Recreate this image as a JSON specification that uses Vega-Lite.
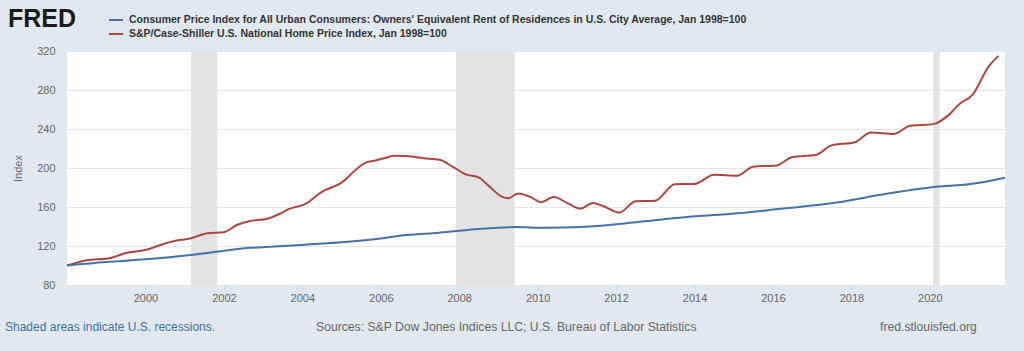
{
  "$schema": "https://vega.github.io/schema/vega-lite/v6.json",
  "width": 938,
  "height": 234,
  "autosize": "none",
  "padding": {"left": 67, "top": 51, "right": 19, "bottom": 66},
  "background": "#e1e9f0",
  "config": {
    "font": "Liberation Sans",
    "view": {"fill": "white", "stroke": null}
  },
  "datasets": {
    "series": [
      {"date": "1998-01-01", "series": "S&P/Case-Shiller U.S. National Home Price Index, Jan 1998=100", "value": 100},
      {"date": "1998-07-01", "series": "S&P/Case-Shiller U.S. National Home Price Index, Jan 1998=100", "value": 105.3},
      {"date": "1999-02-01", "series": "S&P/Case-Shiller U.S. National Home Price Index, Jan 1998=100", "value": 107.5},
      {"date": "1999-07-01", "series": "S&P/Case-Shiller U.S. National Home Price Index, Jan 1998=100", "value": 112.8},
      {"date": "2000-01-01", "series": "S&P/Case-Shiller U.S. National Home Price Index, Jan 1998=100", "value": 115.9},
      {"date": "2000-07-01", "series": "S&P/Case-Shiller U.S. National Home Price Index, Jan 1998=100", "value": 122.5},
      {"date": "2000-11-01", "series": "S&P/Case-Shiller U.S. National Home Price Index, Jan 1998=100", "value": 125.8},
      {"date": "2001-02-01", "series": "S&P/Case-Shiller U.S. National Home Price Index, Jan 1998=100", "value": 127.2},
      {"date": "2001-08-01", "series": "S&P/Case-Shiller U.S. National Home Price Index, Jan 1998=100", "value": 133.0},
      {"date": "2002-01-01", "series": "S&P/Case-Shiller U.S. National Home Price Index, Jan 1998=100", "value": 134.2},
      {"date": "2002-05-01", "series": "S&P/Case-Shiller U.S. National Home Price Index, Jan 1998=100", "value": 141.5},
      {"date": "2002-09-01", "series": "S&P/Case-Shiller U.S. National Home Price Index, Jan 1998=100", "value": 145.6},
      {"date": "2003-02-01", "series": "S&P/Case-Shiller U.S. National Home Price Index, Jan 1998=100", "value": 147.7},
      {"date": "2003-06-01", "series": "S&P/Case-Shiller U.S. National Home Price Index, Jan 1998=100", "value": 152.8},
      {"date": "2003-09-01", "series": "S&P/Case-Shiller U.S. National Home Price Index, Jan 1998=100", "value": 158.0},
      {"date": "2004-02-01", "series": "S&P/Case-Shiller U.S. National Home Price Index, Jan 1998=100", "value": 163.3},
      {"date": "2004-07-01", "series": "S&P/Case-Shiller U.S. National Home Price Index, Jan 1998=100", "value": 175.5},
      {"date": "2005-01-01", "series": "S&P/Case-Shiller U.S. National Home Price Index, Jan 1998=100", "value": 185.0},
      {"date": "2005-06-01", "series": "S&P/Case-Shiller U.S. National Home Price Index, Jan 1998=100", "value": 200.0},
      {"date": "2005-08-01", "series": "S&P/Case-Shiller U.S. National Home Price Index, Jan 1998=100", "value": 204.8},
      {"date": "2005-11-01", "series": "S&P/Case-Shiller U.S. National Home Price Index, Jan 1998=100", "value": 207.5},
      {"date": "2006-02-01", "series": "S&P/Case-Shiller U.S. National Home Price Index, Jan 1998=100", "value": 210.0},
      {"date": "2006-05-01", "series": "S&P/Case-Shiller U.S. National Home Price Index, Jan 1998=100", "value": 212.6},
      {"date": "2006-09-01", "series": "S&P/Case-Shiller U.S. National Home Price Index, Jan 1998=100", "value": 212.3},
      {"date": "2007-02-01", "series": "S&P/Case-Shiller U.S. National Home Price Index, Jan 1998=100", "value": 210.0},
      {"date": "2007-07-01", "series": "S&P/Case-Shiller U.S. National Home Price Index, Jan 1998=100", "value": 208.5},
      {"date": "2007-11-01", "series": "S&P/Case-Shiller U.S. National Home Price Index, Jan 1998=100", "value": 201.4},
      {"date": "2008-03-01", "series": "S&P/Case-Shiller U.S. National Home Price Index, Jan 1998=100", "value": 193.5},
      {"date": "2008-07-01", "series": "S&P/Case-Shiller U.S. National Home Price Index, Jan 1998=100", "value": 190.4},
      {"date": "2008-10-01", "series": "S&P/Case-Shiller U.S. National Home Price Index, Jan 1998=100", "value": 181.8},
      {"date": "2009-02-01", "series": "S&P/Case-Shiller U.S. National Home Price Index, Jan 1998=100", "value": 170.6},
      {"date": "2009-04-01", "series": "S&P/Case-Shiller U.S. National Home Price Index, Jan 1998=100", "value": 168.9},
      {"date": "2009-07-01", "series": "S&P/Case-Shiller U.S. National Home Price Index, Jan 1998=100", "value": 173.8},
      {"date": "2009-11-01", "series": "S&P/Case-Shiller U.S. National Home Price Index, Jan 1998=100", "value": 170.0},
      {"date": "2010-02-01", "series": "S&P/Case-Shiller U.S. National Home Price Index, Jan 1998=100", "value": 164.8},
      {"date": "2010-06-01", "series": "S&P/Case-Shiller U.S. National Home Price Index, Jan 1998=100", "value": 170.2},
      {"date": "2010-10-01", "series": "S&P/Case-Shiller U.S. National Home Price Index, Jan 1998=100", "value": 164.2},
      {"date": "2011-02-01", "series": "S&P/Case-Shiller U.S. National Home Price Index, Jan 1998=100", "value": 158.3},
      {"date": "2011-06-01", "series": "S&P/Case-Shiller U.S. National Home Price Index, Jan 1998=100", "value": 164.1},
      {"date": "2011-09-01", "series": "S&P/Case-Shiller U.S. National Home Price Index, Jan 1998=100", "value": 161.0},
      {"date": "2012-02-01", "series": "S&P/Case-Shiller U.S. National Home Price Index, Jan 1998=100", "value": 154.2},
      {"date": "2012-07-01", "series": "S&P/Case-Shiller U.S. National Home Price Index, Jan 1998=100", "value": 166.0},
      {"date": "2013-01-01", "series": "S&P/Case-Shiller U.S. National Home Price Index, Jan 1998=100", "value": 166.5},
      {"date": "2013-07-01", "series": "S&P/Case-Shiller U.S. National Home Price Index, Jan 1998=100", "value": 183.4},
      {"date": "2014-01-01", "series": "S&P/Case-Shiller U.S. National Home Price Index, Jan 1998=100", "value": 183.6},
      {"date": "2014-07-01", "series": "S&P/Case-Shiller U.S. National Home Price Index, Jan 1998=100", "value": 193.0},
      {"date": "2015-02-01", "series": "S&P/Case-Shiller U.S. National Home Price Index, Jan 1998=100", "value": 192.0},
      {"date": "2015-07-01", "series": "S&P/Case-Shiller U.S. National Home Price Index, Jan 1998=100", "value": 201.4},
      {"date": "2016-02-01", "series": "S&P/Case-Shiller U.S. National Home Price Index, Jan 1998=100", "value": 202.5},
      {"date": "2016-07-01", "series": "S&P/Case-Shiller U.S. National Home Price Index, Jan 1998=100", "value": 211.3},
      {"date": "2017-02-01", "series": "S&P/Case-Shiller U.S. National Home Price Index, Jan 1998=100", "value": 213.3},
      {"date": "2017-07-01", "series": "S&P/Case-Shiller U.S. National Home Price Index, Jan 1998=100", "value": 223.2},
      {"date": "2018-02-01", "series": "S&P/Case-Shiller U.S. National Home Price Index, Jan 1998=100", "value": 226.4},
      {"date": "2018-07-01", "series": "S&P/Case-Shiller U.S. National Home Price Index, Jan 1998=100", "value": 236.4},
      {"date": "2019-02-01", "series": "S&P/Case-Shiller U.S. National Home Price Index, Jan 1998=100", "value": 234.9},
      {"date": "2019-07-01", "series": "S&P/Case-Shiller U.S. National Home Price Index, Jan 1998=100", "value": 243.4},
      {"date": "2020-02-01", "series": "S&P/Case-Shiller U.S. National Home Price Index, Jan 1998=100", "value": 245.0},
      {"date": "2020-07-01", "series": "S&P/Case-Shiller U.S. National Home Price Index, Jan 1998=100", "value": 255.0},
      {"date": "2020-10-01", "series": "S&P/Case-Shiller U.S. National Home Price Index, Jan 1998=100", "value": 265.5},
      {"date": "2021-02-01", "series": "S&P/Case-Shiller U.S. National Home Price Index, Jan 1998=100", "value": 275.0},
      {"date": "2021-07-01", "series": "S&P/Case-Shiller U.S. National Home Price Index, Jan 1998=100", "value": 304.0},
      {"date": "2021-10-01", "series": "S&P/Case-Shiller U.S. National Home Price Index, Jan 1998=100", "value": 315.0},
      {"date": "1998-01-01", "series": "Consumer Price Index for All Urban Consumers: Owners' Equivalent Rent of Residences in U.S. City Average, Jan 1998=100", "value": 100},
      {"date": "1999-01-01", "series": "Consumer Price Index for All Urban Consumers: Owners' Equivalent Rent of Residences in U.S. City Average, Jan 1998=100", "value": 103.6},
      {"date": "2000-01-01", "series": "Consumer Price Index for All Urban Consumers: Owners' Equivalent Rent of Residences in U.S. City Average, Jan 1998=100", "value": 106.4},
      {"date": "2001-03-01", "series": "Consumer Price Index for All Urban Consumers: Owners' Equivalent Rent of Residences in U.S. City Average, Jan 1998=100", "value": 110.8},
      {"date": "2002-01-01", "series": "Consumer Price Index for All Urban Consumers: Owners' Equivalent Rent of Residences in U.S. City Average, Jan 1998=100", "value": 115.0},
      {"date": "2002-06-01", "series": "Consumer Price Index for All Urban Consumers: Owners' Equivalent Rent of Residences in U.S. City Average, Jan 1998=100", "value": 117.2},
      {"date": "2003-02-01", "series": "Consumer Price Index for All Urban Consumers: Owners' Equivalent Rent of Residences in U.S. City Average, Jan 1998=100", "value": 119.0},
      {"date": "2004-02-01", "series": "Consumer Price Index for All Urban Consumers: Owners' Equivalent Rent of Residences in U.S. City Average, Jan 1998=100", "value": 121.4},
      {"date": "2005-01-01", "series": "Consumer Price Index for All Urban Consumers: Owners' Equivalent Rent of Residences in U.S. City Average, Jan 1998=100", "value": 123.8},
      {"date": "2005-11-01", "series": "Consumer Price Index for All Urban Consumers: Owners' Equivalent Rent of Residences in U.S. City Average, Jan 1998=100", "value": 126.9},
      {"date": "2006-09-01", "series": "Consumer Price Index for All Urban Consumers: Owners' Equivalent Rent of Residences in U.S. City Average, Jan 1998=100", "value": 131.3},
      {"date": "2007-07-01", "series": "Consumer Price Index for All Urban Consumers: Owners' Equivalent Rent of Residences in U.S. City Average, Jan 1998=100", "value": 133.6},
      {"date": "2008-06-01", "series": "Consumer Price Index for All Urban Consumers: Owners' Equivalent Rent of Residences in U.S. City Average, Jan 1998=100", "value": 137.1},
      {"date": "2009-06-01", "series": "Consumer Price Index for All Urban Consumers: Owners' Equivalent Rent of Residences in U.S. City Average, Jan 1998=100", "value": 139.4},
      {"date": "2010-03-01", "series": "Consumer Price Index for All Urban Consumers: Owners' Equivalent Rent of Residences in U.S. City Average, Jan 1998=100", "value": 138.8},
      {"date": "2011-04-01", "series": "Consumer Price Index for All Urban Consumers: Owners' Equivalent Rent of Residences in U.S. City Average, Jan 1998=100", "value": 139.8},
      {"date": "2012-07-01", "series": "Consumer Price Index for All Urban Consumers: Owners' Equivalent Rent of Residences in U.S. City Average, Jan 1998=100", "value": 144.3},
      {"date": "2013-10-01", "series": "Consumer Price Index for All Urban Consumers: Owners' Equivalent Rent of Residences in U.S. City Average, Jan 1998=100", "value": 149.4},
      {"date": "2015-02-01", "series": "Consumer Price Index for All Urban Consumers: Owners' Equivalent Rent of Residences in U.S. City Average, Jan 1998=100", "value": 153.5},
      {"date": "2016-05-01", "series": "Consumer Price Index for All Urban Consumers: Owners' Equivalent Rent of Residences in U.S. City Average, Jan 1998=100", "value": 158.6},
      {"date": "2017-09-01", "series": "Consumer Price Index for All Urban Consumers: Owners' Equivalent Rent of Residences in U.S. City Average, Jan 1998=100", "value": 164.8},
      {"date": "2018-09-01", "series": "Consumer Price Index for All Urban Consumers: Owners' Equivalent Rent of Residences in U.S. City Average, Jan 1998=100", "value": 172.0},
      {"date": "2020-03-01", "series": "Consumer Price Index for All Urban Consumers: Owners' Equivalent Rent of Residences in U.S. City Average, Jan 1998=100", "value": 180.8},
      {"date": "2021-01-01", "series": "Consumer Price Index for All Urban Consumers: Owners' Equivalent Rent of Residences in U.S. City Average, Jan 1998=100", "value": 183.3},
      {"date": "2021-12-01", "series": "Consumer Price Index for All Urban Consumers: Owners' Equivalent Rent of Residences in U.S. City Average, Jan 1998=100", "value": 190.0}
    ],
    "recessions": [
      {"start": "2001-03-01", "end": "2001-11-01"},
      {"start": "2007-12-01", "end": "2009-06-01"},
      {"start": "2020-02-01", "end": "2020-04-01"}
    ]
  },
  "layer": [
    {
      "data": {"name": "recessions"},
      "mark": {"type": "rect", "color": "#e3e3e3"},
      "encoding": {
        "x": {"field": "start", "type": "temporal"},
        "x2": {"field": "end"}
      }
    },
    {
      "data": {"name": "series"},
      "mark": {"type": "line", "strokeWidth": 2, "interpolate": "monotone"},
      "encoding": {
        "x": {
          "field": "date",
          "type": "temporal",
          "scale": {"type": "utc", "domain": [{"year": 1998, "month": 1, "date": 1, "utc": true}, {"year": 2021, "month": 12, "date": 1, "utc": true}]},
          "axis": {
            "title": null,
            "format": "%Y",
            "values": [
              {"year": 2000, "month": 1, "date": 1, "utc": true},
              {"year": 2002, "month": 1, "date": 1, "utc": true},
              {"year": 2004, "month": 1, "date": 1, "utc": true},
              {"year": 2006, "month": 1, "date": 1, "utc": true},
              {"year": 2008, "month": 1, "date": 1, "utc": true},
              {"year": 2010, "month": 1, "date": 1, "utc": true},
              {"year": 2012, "month": 1, "date": 1, "utc": true},
              {"year": 2014, "month": 1, "date": 1, "utc": true},
              {"year": 2016, "month": 1, "date": 1, "utc": true},
              {"year": 2018, "month": 1, "date": 1, "utc": true},
              {"year": 2020, "month": 1, "date": 1, "utc": true}
            ],
            "grid": false,
            "domain": false,
            "ticks": true,
            "tickSize": 5,
            "tickColor": "#ccd6eb",
            "labelPadding": 2,
            "labelFontSize": 11,
            "labelColor": "#666666",
            "labelFont": "Liberation Sans"
          }
        },
        "y": {
          "field": "value",
          "type": "quantitative",
          "scale": {"domain": [80, 320], "nice": false},
          "axis": {
            "title": "Index",
            "values": [80, 120, 160, 200, 240, 280, 320],
            "grid": true,
            "gridColor": "#e6e6e6",
            "domain": false,
            "ticks": false,
            "tickSize": 0,
            "labelPadding": 12,
            "labelFontSize": 11,
            "labelColor": "#666666",
            "labelFont": "Liberation Sans",
            "titleFont": "Liberation Sans",
            "titleFontSize": 11,
            "titleFontWeight": "normal",
            "titleColor": "#666666",
            "titleAngle": -90,
            "titleX": -49,
            "titleY": 117,
            "titleAlign": "center",
            "titleBaseline": "middle"
          }
        },
        "color": {
          "field": "series",
          "type": "nominal",
          "scale": {
            "domain": [
              "Consumer Price Index for All Urban Consumers: Owners' Equivalent Rent of Residences in U.S. City Average, Jan 1998=100",
              "S&P/Case-Shiller U.S. National Home Price Index, Jan 1998=100"
            ],
            "range": ["#4572a7", "#aa4643"]
          },
          "legend": {
            "title": null,
            "orient": "none",
            "legendX": 41,
            "legendY": -39,
            "direction": "vertical",
            "symbolType": "stroke",
            "symbolStrokeWidth": 2,
            "symbolSize": 196,
            "labelFont": "Liberation Sans",
            "labelFontSize": 10.5,
            "labelFontWeight": "bold",
            "labelColor": "#333333",
            "labelOffset": 5,
            "labelLimit": 900,
            "rowPadding": 0,
            "padding": 0
          }
        }
      }
    },
    {
      "data": {"values": [{}]},
      "mark": {"type": "text", "text": "FRED", "align": "left", "baseline": "alphabetic", "fontSize": 25, "fontWeight": "bold", "color": "#1a1a1a", "font": "Liberation Sans"},
      "encoding": {"x": {"value": -59}, "y": {"value": -24}}
    },
    {
      "data": {"values": [{}]},
      "mark": {"type": "text", "text": "Shaded areas indicate U.S. recessions.", "align": "left", "baseline": "middle", "fontSize": 12, "color": "#3f6fa8", "font": "Liberation Sans"},
      "encoding": {"x": {"value": -62}, "y": {"value": 276}}
    },
    {
      "data": {"values": [{}]},
      "mark": {"type": "text", "text": "Sources: S&P Dow Jones Indices LLC; U.S. Bureau of Labor Statistics", "align": "left", "baseline": "middle", "fontSize": 12.2, "color": "#666666", "font": "Liberation Sans"},
      "encoding": {"x": {"value": 249}, "y": {"value": 276}}
    },
    {
      "data": {"values": [{}]},
      "mark": {"type": "text", "text": "fred.stlouisfed.org", "align": "left", "baseline": "middle", "fontSize": 12.2, "color": "#666666", "font": "Liberation Sans"},
      "encoding": {"x": {"value": 813}, "y": {"value": 276}}
    }
  ]
}
